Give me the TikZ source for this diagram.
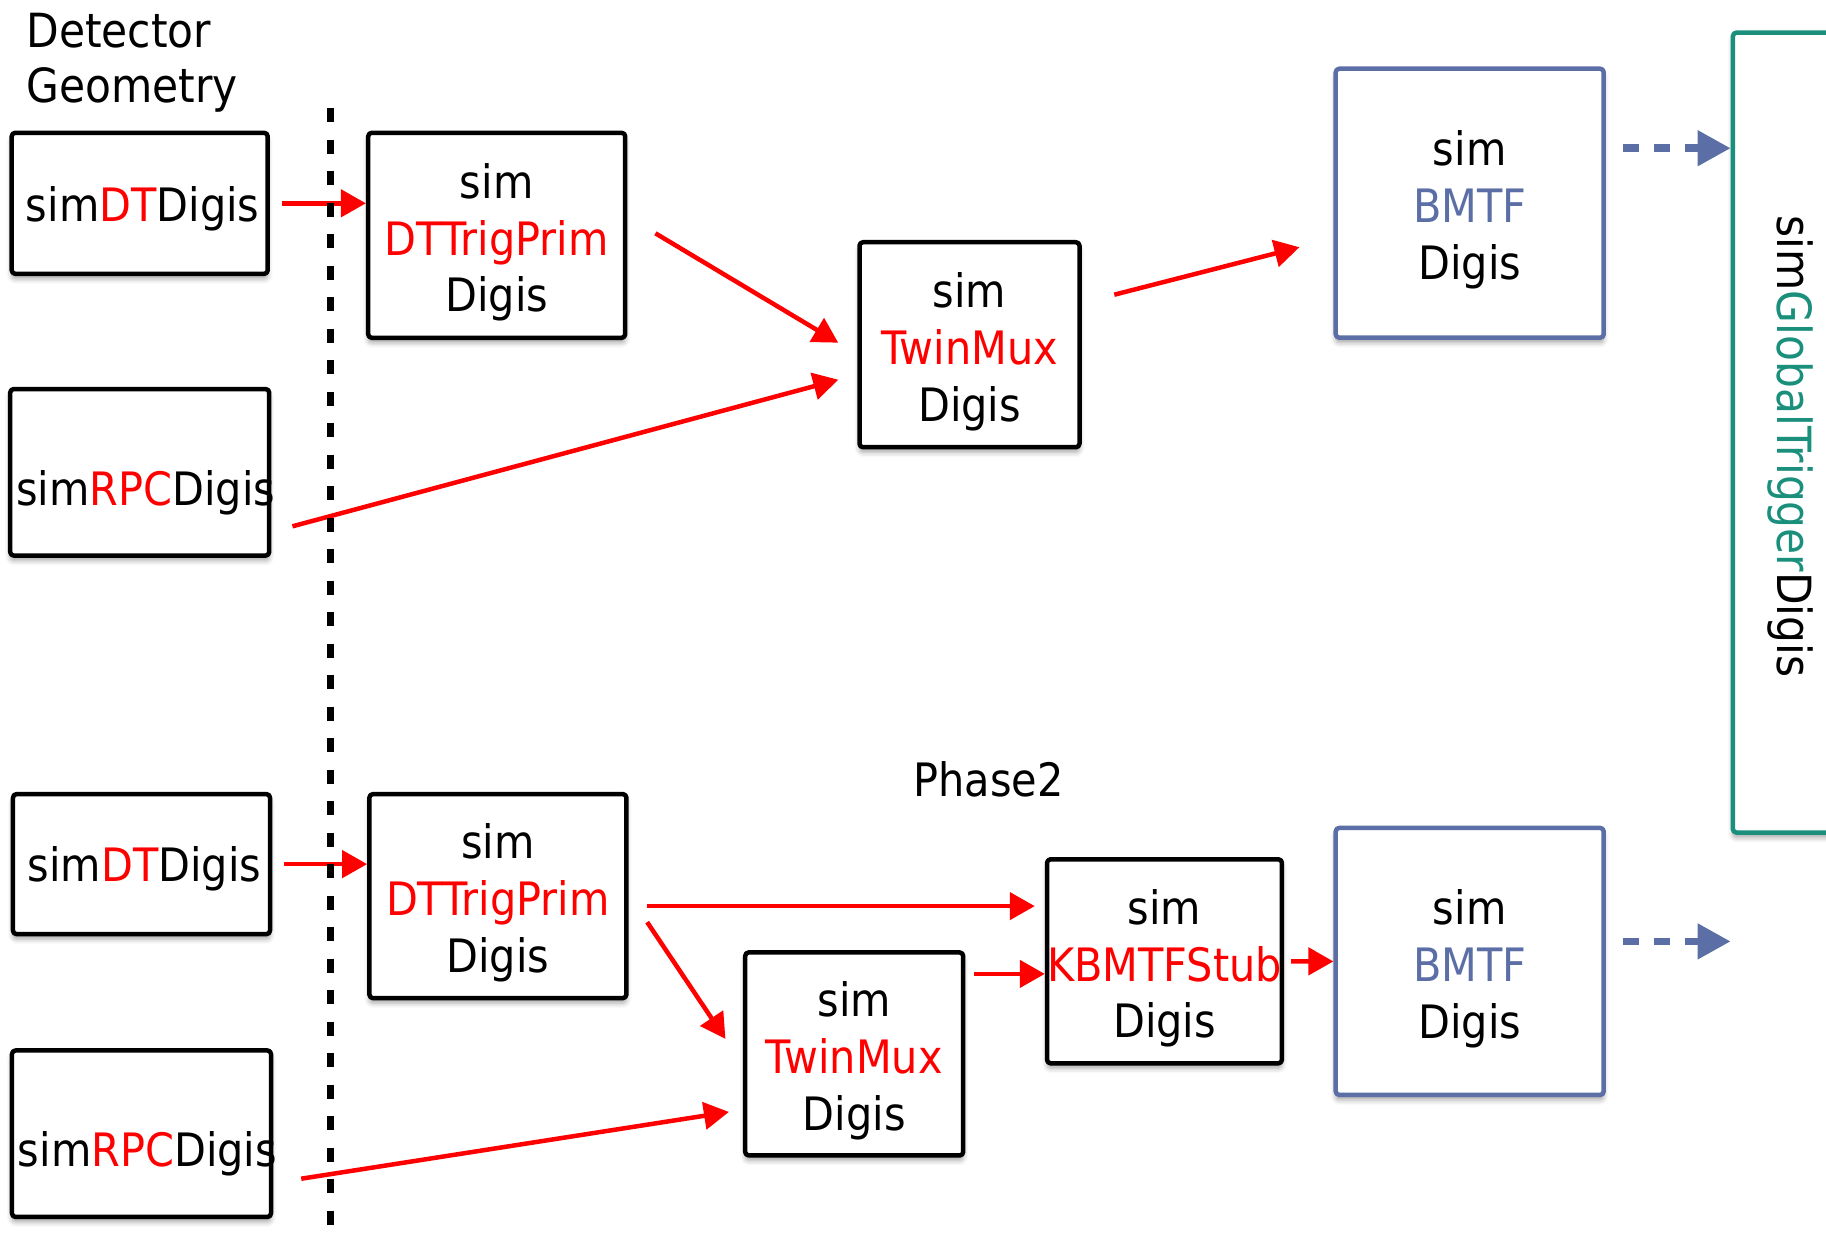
\documentclass[tikz,border=0pt]{standalone}
\usepackage{fontspec}
\setmainfont{DejaVu Sans}[FakeStretch=0.9]
\usepackage{graphicx}
\usepackage{tikz}
\usetikzlibrary{arrows.meta,positioning,shadows.blur}
\definecolor{bmtfblue}{RGB}{91,110,165}
\definecolor{gtgreen}{RGB}{26,143,124}
\newcommand{\boxfont}{\fontsize{13.1}{16.2}\selectfont}
\newcommand{\lowtext}[2][0.07cm]{\raisebox{-#1}[\height][\depth]{#2}}
\newcommand{\simdigis}[2]{\lowtext{sim}\\\lowtext{\textcolor{#1}{#2}}\\\lowtext{Digis}}
\tikzset{
  blk/.style={draw, line width=0.045cm, rounded corners=1pt, fill=white, align=center, inner sep=0pt, font=\boxfont,
    blur shadow={shadow xshift=0pt, shadow yshift=-0.05cm, shadow blur radius=0.05cm, shadow opacity=35}},
  bmtf/.style={blk, draw=bmtfblue},
  gtbox/.style={blk, draw=gtgreen},
  arr/.style={red, line width=0.045cm, -{Triangle[length=0.25cm,width=0.27cm]}},
  dasharr/.style={bmtfblue, line width=0.075cm, dash pattern=on 0.16cm off 0.15cm, -{Triangle[length=0.33cm,width=0.34cm]}},
  sepline/.style={line width=0.075cm, dash pattern=on 0.14cm off 0.175cm}
}

\begin{document}
\begin{tikzpicture}[x=1cm,y=1cm, line cap=butt, line join=round]
\useasboundingbox (0,0) rectangle (18.26,-12.40);
\clip (0,0) rectangle (18.26,-12.40);

% Title
\node[anchor=north west, inner sep=0pt, align=left, font=\fontsize{13.4}{15.6}\selectfont] (geo) at (0.257,-0.127) {Detector\\Geometry};

% Upper chain
\node[blk, minimum width=2.56cm, minimum height=1.41cm] (A1) at (1.397,-2.033) {\hspace*{0.03cm}\lowtext[0.05cm]{sim\textcolor{red}{DT}Digis}\hspace*{-0.03cm}};
\node[blk, minimum width=2.56cm, minimum height=1.665cm] (R1) at (1.397,-4.723) {\hspace*{0.06cm}\lowtext[0.20cm]{sim\textcolor{red}{RPC}Digis}\hspace*{-0.06cm}};
\node[blk, minimum width=2.57cm, minimum height=2.05cm] (P1) at (4.967,-2.353) {\simdigis{red}{DTTrigPrim}};
\node[blk, minimum width=2.20cm, minimum height=2.05cm] (T1) at (9.695,-3.447) {\simdigis{red}{TwinMux}};
\node[bmtf, minimum width=2.68cm, minimum height=2.69cm] (B1) at (14.697,-2.032) {\simdigis{bmtfblue}{BMTF}};
\node[gtbox, minimum width=1.15cm, minimum height=8.00cm, font=\fontsize{13.4}{16}\selectfont] (G) at (17.904,-4.326) {\rotatebox{-90}{\hspace*{0.28cm}sim\textcolor{gtgreen}{GlobalTrigger}Digis}};

% Phase2 chain
\node[font=\boxfont, inner sep=0pt] (ph2) at (9.887,-7.79) {Phase2};
\node[blk, minimum width=2.57cm, minimum height=1.40cm] (A2) at (1.415,-8.641) {\hspace*{0.03cm}\lowtext[0.05cm]{sim\textcolor{red}{DT}Digis}\hspace*{-0.03cm}};
\node[blk, minimum width=2.57cm, minimum height=1.665cm] (R2) at (1.415,-11.337) {\hspace*{0.06cm}\lowtext[0.20cm]{sim\textcolor{red}{RPC}Digis}\hspace*{-0.06cm}};
\node[blk, minimum width=2.57cm, minimum height=2.04cm] (P2) at (4.979,-8.961) {\simdigis{red}{DTTrigPrim}};
\node[blk, minimum width=2.18cm, minimum height=2.03cm] (T2) at (8.542,-10.539) {\simdigis{red}{TwinMux}};
\node[blk, minimum width=2.19cm, minimum height=2.04cm] (K) at (11.645,-9.613) {\simdigis{red}{KBMTFStub}};
\node[bmtf, minimum width=2.68cm, minimum height=2.67cm] (B2) at (14.697,-9.614) {\simdigis{bmtfblue}{BMTF}};

% Upper arrows
\draw[arr, shorten <=0.12cm] (A1.east) -- (A1.east -| P1.west);
\draw[arr] ([shift={(0.28,0.02)}]P1.east) -- ([shift={(-0.19,0.02)}]T1.west);
\draw[arr] ([shift={(0.21,-0.54)}]R1.east) -- ([shift={(-0.19,-0.35)}]T1.west);
\draw[arr] ([shift={(0.325,0.50)}]T1.east) -- ([shift={(-0.34,-0.44)}]B1.west);
\coordinate (b1out) at ([shift={(0.17,0.55)}]B1.east);
\draw[dasharr] (b1out) -- (b1out -| G.west);

% Phase2 arrows
\draw[arr, shorten <=0.12cm] (A2.east) -- (A2.east -| P2.west);
\coordinate (p2out) at ([shift={(0.185,-0.10)}]P2.east);
\draw[arr, shorten >=0.10cm] (p2out) -- (p2out -| K.west);
\draw[arr] ([shift={(0.185,-0.26)}]P2.east) -- ([shift={(-0.175,0.15)}]T2.west);
\draw[arr] ([shift={(0.28,-0.45)}]R2.east) -- ([shift={(-0.14,-0.58)}]T2.west);
\coordinate (t2out) at ([shift={(0.09,0.80)}]T2.east);
\draw[arr] (t2out) -- (t2out -| K.west);
\draw[arr, shorten <=0.07cm] (K.east) -- (B2.west);
\coordinate (b2out) at ([shift={(0.17,0.20)}]B2.east);
\draw[dasharr] (b2out) -- (b2out -| G.west);

% Geometry boundary
\draw[sepline] (3.307,-1.08) -- (3.307,-12.40);
\end{tikzpicture}
\end{document}
